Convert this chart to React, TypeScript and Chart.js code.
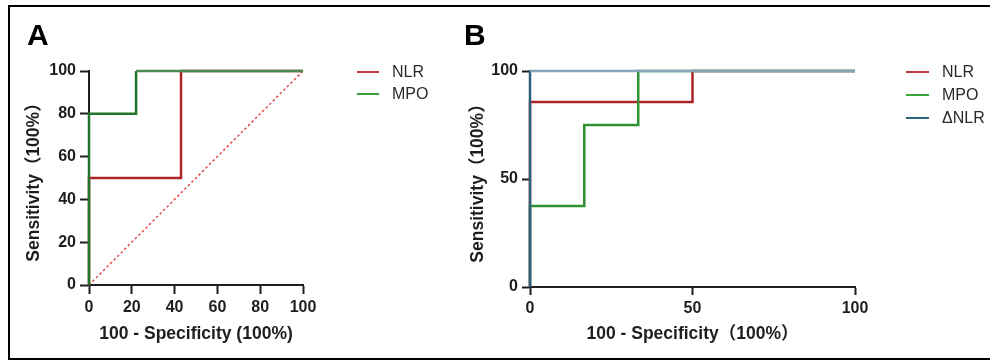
import React, { useEffect, useRef } from "react";
import { Chart, registerables } from "chart.js";

Chart.register(...registerables);

const FONT = '"Liberation Sans", Arial, "Noto Sans CJK SC", sans-serif';
const INK = "#1e1e1e";

// ---------- Panel A data ----------
const A_X_TICK_STEP = 20;
const A_Y_TICK_STEP = 20;
const A_NLR_X = [0, 0, 43, 43, 100];
const A_NLR_Y = [0, 50, 50, 100, 100];
const A_MPO_X = [0, 0, 22, 22, 100];
const A_MPO_Y = [0, 80, 80, 100, 100];
const A_REF_X = [0, 100];
const A_REF_Y = [0, 100];
const A_SERIES = ["NLR", "MPO"];

// ---------- Panel B data ----------
const B_X_TICK_STEP = 50;
const B_Y_TICK_STEP = 50;
const B_NLR_X = [0, 0, 50, 50, 100];
const B_NLR_Y = [0, 85.7, 85.7, 100, 100];
const B_MPO_X = [0, 0, 16.7, 16.7, 33.3, 33.3, 100];
const B_MPO_Y = [0, 37.5, 37.5, 75, 75, 100, 100];
const B_DNLR_X = [0, 0, 100];
const B_DNLR_Y = [0, 100, 100];
const B_SERIES = ["NLR", "MPO", "ΔNLR"];

const RED = "#ad2326";
const GREEN_A = "#23722b";
const GREEN_B = "#2e9232";
const BLUE = "#2c5f7c";
const BLUE_LIGHT = "#86a7ba";

const pts = (xs: number[], ys: number[]) => xs.map((x, i) => ({ x, y: ys[i] }));

const legendPlugin = {
  id: "roclegend",
  afterDraw(chart: any, _args: any, opts: any) {
    const ctx = chart.ctx;
    ctx.save();
    ctx.font = `bold ${opts.letterSize}px ${FONT}`;
    ctx.fillStyle = "#000";
    ctx.textBaseline = "alphabetic";
    ctx.textAlign = "left";
    ctx.fillText(opts.letter, opts.letterX, opts.letterY);
    ctx.font = `16px ${FONT}`;
    ctx.textBaseline = "middle";
    (opts.series as string[]).forEach((name, i) => {
      const ds = chart.data.datasets.find((d: any) => d.label === name);
      if (!ds) return;
      const y = opts.y + i * opts.gap;
      ctx.strokeStyle = ds.legendColor || ds.borderColor;
      ctx.lineWidth = 2;
      ctx.setLineDash([]);
      ctx.beginPath();
      ctx.moveTo(opts.x, y);
      ctx.lineTo(opts.x + opts.lineLen, y);
      ctx.stroke();
      ctx.fillStyle = "#2a2a2a";
      ctx.fillText(name, opts.textX, y + 1);
    });
    ctx.restore();
  },
};

function axis(opts: {
  step: number;
  title: string;
  titlePad: any;
  size: number;
  horizontal: boolean;
  tickLen: number;
}) {
  return {
    type: "linear",
    min: 0,
    max: 100,
    ticks: {
      stepSize: opts.step,
      color: INK,
      padding: 4,
      font: { family: FONT, size: 16, weight: "bold" },
      maxRotation: 0,
    },
    grid: {
      display: true,
      drawOnChartArea: false,
      drawTicks: true,
      tickLength: opts.tickLen,
      tickWidth: 2,
      tickColor: INK,
    },
    border: { display: true, color: INK, width: 2 },
    title: {
      display: true,
      text: opts.title,
      color: INK,
      font: { family: FONT, size: 17.5, weight: "bold" },
      padding: opts.titlePad,
    },
    afterFit: (s: any) => {
      if (opts.horizontal) s.height = opts.size;
      else s.width = opts.size;
    },
  };
}

function lineDs(label: string, data: any[], color: string, order: number, extra: any = {}) {
  return {
    label,
    data,
    borderColor: color,
    backgroundColor: color,
    borderWidth: 2.5,
    pointRadius: 0,
    pointHoverRadius: 0,
    fill: false,
    tension: 0,
    showLine: true,
    clip: false,
    order,
    ...extra,
  };
}

function Panel(props: { left: number; width: number; build: () => any }) {
  const ref = useRef<HTMLCanvasElement | null>(null);
  useEffect(() => {
    if (!ref.current) return;
    const chart = new Chart(ref.current, props.build());
    return () => chart.destroy();
  }, []);
  return (
    <canvas
      ref={ref}
      width={props.width}
      height={361}
      style={{ position: "absolute", left: props.left, top: 0, width: props.width, height: 361 }}
    />
  );
}

const buildA = () => ({
  type: "line",
  data: {
    datasets: [
      lineDs("", pts(A_REF_X, A_REF_Y), "#e04848", 3, { borderWidth: 1.5, borderDash: [2.5, 2.5] }),
      lineDs("NLR", pts(A_NLR_X, A_NLR_Y), RED, 2, { legendColor: "#c23a3a" }),
      lineDs("MPO", pts(A_MPO_X, A_MPO_Y), GREEN_A, 1, {
        legendColor: "#3a9e3a",
        segment: {
          borderColor: (c: any) => (c.p0.parsed.y === 100 && c.p1.parsed.y === 100 ? "#4a8a50" : undefined),
        },
      }),
    ],
  },
  options: {
    responsive: false,
    animation: false,
    devicePixelRatio: 1,
    layout: { padding: { left: 0, top: 71, right: 157, bottom: 0 } },
    scales: {
      x: axis({ step: A_X_TICK_STEP, title: "100 - Specificity (100%)", titlePad: { top: 0, bottom: 16 }, size: 76, horizontal: true, tickLen: 9 }),
      y: axis({ step: A_Y_TICK_STEP, title: "Sensitivity（100%）", titlePad: { top: 24, bottom: 0 }, size: 89, horizontal: false, tickLen: 9 }),
    },
    plugins: {
      legend: { display: false },
      tooltip: { enabled: false },
      roclegend: { letter: "A", letterSize: 30, letterX: 27, letterY: 45, series: A_SERIES, x: 357, y: 72, gap: 22, lineLen: 22, textX: 392 },
    },
  },
  plugins: [legendPlugin],
});

const buildB = () => ({
  type: "line",
  data: {
    datasets: [
      lineDs("NLR", pts(B_NLR_X, B_NLR_Y), RED, 3, { legendColor: "#c23a3a" }),
      lineDs("MPO", pts(B_MPO_X, B_MPO_Y), GREEN_B, 2, { legendColor: "#3aa53a" }),
      lineDs("ΔNLR", pts(B_DNLR_X, B_DNLR_Y), BLUE, 1, {
        legendColor: "#2e6682",
        segment: {
          borderColor: (c: any) => (c.p0.parsed.y === c.p1.parsed.y && c.p0.parsed.y === 100 ? BLUE_LIGHT : undefined),
        },
      }),
    ],
  },
  options: {
    responsive: false,
    animation: false,
    devicePixelRatio: 1,
    layout: { padding: { left: 0, top: 71, right: 135, bottom: 0 } },
    scales: {
      x: axis({ step: B_X_TICK_STEP, title: "100 - Specificity（100%）", titlePad: { top: 0, bottom: 16 }, size: 74, horizontal: true, tickLen: 8 }),
      y: axis({ step: B_Y_TICK_STEP, title: "Sensitivity（100%）", titlePad: { top: 8, bottom: 0 }, size: 70, horizontal: false, tickLen: 8 }),
    },
    plugins: {
      legend: { display: false },
      tooltip: { enabled: false },
      roclegend: { letter: "B", letterSize: 30, letterX: 4, letterY: 45, series: B_SERIES, x: 446, y: 72, gap: 23, lineLen: 23, textX: 482 },
    },
  },
  plugins: [legendPlugin],
});

export default function App() {
  return (
    <div style={{ position: "fixed", left: 0, top: 0, width: 990, height: 361, overflow: "hidden", background: "#fff" }}>
      <Panel left={0} width={460} build={buildA} />
      <Panel left={460} width={530} build={buildB} />
      <div
        style={{
          position: "absolute",
          left: 8,
          top: 5,
          width: 1000,
          height: 355,
          boxSizing: "border-box",
          border: "2px solid #000",
          pointerEvents: "none",
        }}
      />
    </div>
  );
}
